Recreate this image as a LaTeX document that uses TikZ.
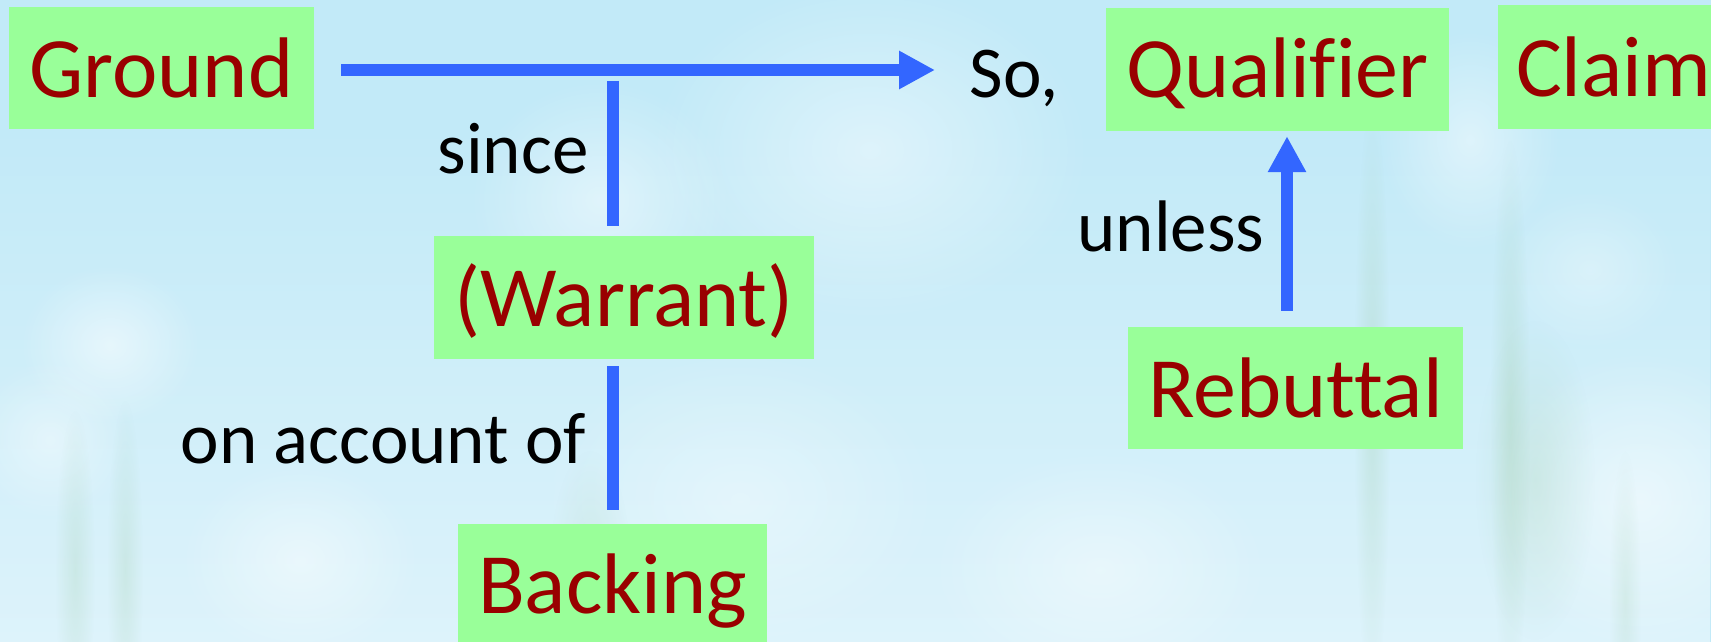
\documentclass[tikz,border=0pt]{standalone}
\usepackage{fontspec}
\setmainfont[Ligatures=NoCommon]{Carlito}
\usetikzlibrary{arrows.meta,fadings}

\definecolor{skyblue}{RGB}{194,234,248}
\definecolor{boxgreen}{RGB}{153,255,153}
\definecolor{termred}{RGB}{153,0,0}
\definecolor{linkblue}{RGB}{51,102,255}
\definecolor{stemgreen}{RGB}{160,205,170}

\tikzfading[name=softedge, inner color=transparent!0, outer color=transparent!100]
\tikzfading[name=risehaze, top color=transparent!100, bottom color=transparent!0]

\tikzset{
  term/.style={fill=boxgreen, text=termred, inner xsep=0pt, inner ysep=0pt,
    anchor=base, font=\fontsize{86}{90}\selectfont},
  word/.style={text=black, inner sep=0pt, anchor=base,
    font=\fontsize{73}{80}\selectfont},
  conn/.style={draw=linkblue, line width=12pt},
  arr/.style={conn, -{Triangle[length=36pt,width=36pt]}},
  glow/.style={fill=white, path fading=softedge},
  stem/.style={fill=stemgreen, path fading=softedge}
}

\begin{document}
\begin{tikzpicture}[x=1pt, y=-1pt]
  \useasboundingbox (0,0) rectangle (1711,642);
  \clip (0,0) rectangle (1711,642);

  % soft sky background, lighter towards the bottom
  \fill[skyblue] (0,0) rectangle (1711,642);
  \fill[white, opacity=0.45, path fading=risehaze] (0,120) rectangle (1711,642);
  % blurred blossoms
  \fill[glow, opacity=0.45] (870,150) ellipse (220pt and 170pt);
  \fill[glow, opacity=0.45] (600,200) ellipse (130pt and 120pt);
  \fill[glow, opacity=0.5] (110,345) ellipse (90pt and 80pt);
  \fill[glow, opacity=0.4] (50,440) ellipse (80pt and 80pt);
  \fill[glow, opacity=0.45] (300,560) ellipse (120pt and 100pt);
  \fill[glow, opacity=0.35] (740,500) ellipse (200pt and 150pt);
  \fill[glow, opacity=0.4] (1100,570) ellipse (170pt and 120pt);
  \fill[glow, opacity=0.45] (1470,140) ellipse (90pt and 110pt);
  \fill[glow, opacity=0.5] (1640,500) ellipse (150pt and 150pt);
  \fill[glow, opacity=0.3] (1590,270) ellipse (90pt and 80pt);
  % blurred stems
  \fill[stem, opacity=0.3] (1372,400) ellipse (18pt and 300pt);
  \fill[stem, opacity=0.3] (1510,420) ellipse (20pt and 280pt);
  \fill[stem, opacity=0.25] (1535,480) ellipse (60pt and 160pt);
  \fill[stem, opacity=0.25] (75,570) ellipse (20pt and 160pt);
  \fill[stem, opacity=0.25] (125,570) ellipse (18pt and 170pt);
  \fill[stem, opacity=0.2] (1625,600) ellipse (16pt and 150pt);
  \fill[stem, opacity=0.2] (590,560) ellipse (40pt and 110pt);

  % Toulmin elements
  \node[term, minimum width=305pt, text height=90pt, text depth=32pt]
    (ground) at (161.5,97) {Ground};
  \node[term, minimum width=343pt, text height=89pt, text depth=34pt]
    (qualifier) at (1277.5,97) {Qualifier};
  \node[term, minimum width=250pt, text height=91pt, text depth=33pt,
    text width=214pt, align=left]
    (claim) at (1623,96) {Claim};
  \node[term, minimum width=380pt, text height=90pt, text depth=33pt]
    (warrant) at (624,326) {(Warrant)};
  \node[term, minimum width=309pt, text height=89pt, text depth=45pt]
    (backing) at (612.5,613) {Backing};
  \node[term, minimum width=335pt, text height=90pt, text depth=32pt]
    (rebuttal) at (1295.5,417) {Rebuttal};

  % connective words
  \node[word] (so) at (1014,97) {So,};
  \node[word] (since) at (513,173) {since};
  \node[word] (unless) at (1171,251) {unless};
  \node[word] (onaccount) at (383.5,463) {on account of};

  % connectors
  \coordinate (tip) at (935,70);
  \coordinate (wtop) at (613,81);
  \coordinate (rline) at (1287,0);
  \draw[arr, shorten <=27pt] (ground.east |- tip) -- (tip);
  \draw[conn, shorten >=10pt] (wtop) -- (wtop |- warrant.north);
  \draw[conn, shorten <=7pt, shorten >=14pt]
    (warrant.south -| backing.north) -- (backing.north);
  \draw[arr, shorten <=16pt, shorten >=5pt]
    (rebuttal.north -| rline) -- (qualifier.south -| rline);
\end{tikzpicture}
\end{document}
